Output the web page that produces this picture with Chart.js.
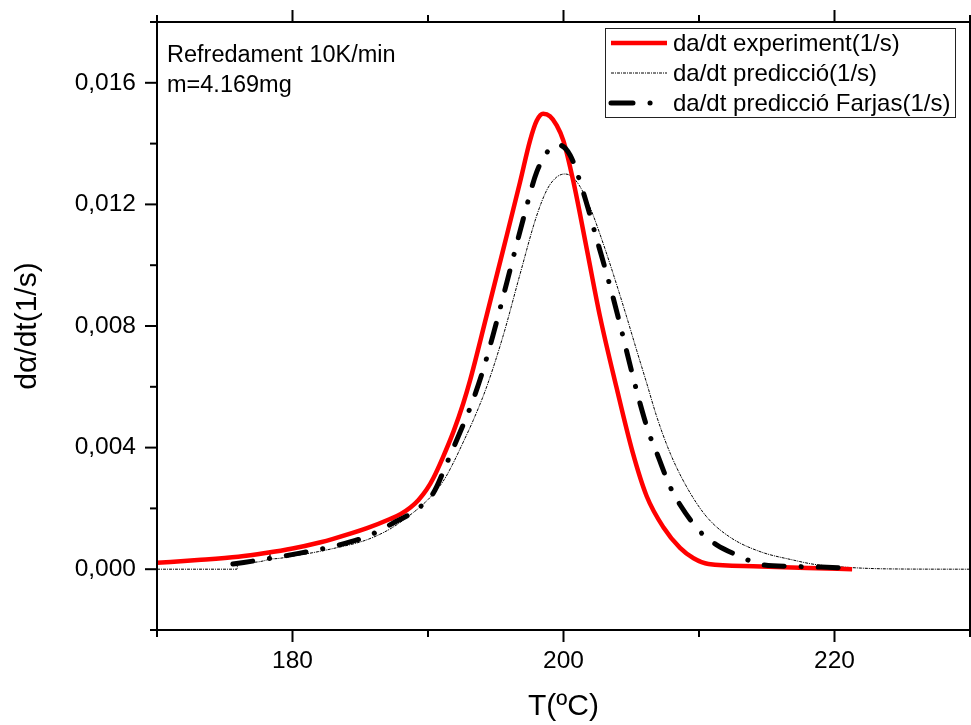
<!DOCTYPE html>
<html>
<head>
<meta charset="utf-8">
<script src="https://cdn.jsdelivr.net/npm/chart.js@4.4.1/dist/chart.umd.min.js"></script>
<style>
    body { margin: 0; background: #fff; }
    canvas { display: block; }
</style>
</head>
<body>
<canvas id="dsc" width="971" height="725"></canvas>
<script>
// Cooling run, 10 K/min, sample of 4.169 mg
const expT = [170.0, 173.0, 176.0, 178.0, 180.0, 182.0, 183.0, 185.5, 187.2, 188.0, 188.7, 189.3, 189.9, 190.4, 191.1, 191.9,
    192.6, 193.1, 194.33, 195.56, 196.79, 197.53, 198.02, 198.5, 199.0, 199.5, 199.99, 200.73, 201.71, 202.7, 203.9,
    205.1, 206.14, 207.37, 208.6, 209.6, 210.7, 214.0, 218.0, 221.3];
const expRate = [0.00021, 0.00030, 0.00041, 0.00053, 0.00068, 0.00088, 0.00100, 0.00135, 0.00165, 0.00182, 0.00203, 0.00228,
    0.00262, 0.00300, 0.00368, 0.00455, 0.00545, 0.00620, 0.00835, 0.01053, 0.01273, 0.01410, 0.01475, 0.01498, 0.01490,
    0.01460, 0.01410, 0.01275, 0.01055, 0.00830, 0.00600, 0.00385, 0.00240, 0.00138, 0.00070, 0.00036, 0.00017, 0.00010,
    0.00004, 0.00000];

const predT = [170.0, 175.9, 175.95, 178.3, 178.35, 178.4, 180.55, 183.0, 185.5, 187.3, 188.67, 189.6, 190.4, 191.2, 191.87,
    192.6, 193.34, 194.33, 195.56, 196.79, 198.0, 198.8, 199.5, 200.1, 200.6, 201.2, 201.96, 202.94, 203.93, 204.66,
    205.4, 206.14, 206.88, 207.86, 209.1, 210.57, 212.3, 214.5, 216.96, 218.5, 221.0, 224.0, 230.0];
const predRate = [0.0, 0.0, 0.00016, 0.00034, 0.00062, 0.00034, 0.00047, 0.00068, 0.00097, 0.00135, 0.00178, 0.00212, 0.00248,
    0.00295, 0.00350, 0.00418, 0.00490, 0.00600, 0.00770, 0.00970, 0.01160, 0.01250, 0.01290, 0.01300, 0.01292, 0.01260,
    0.01190, 0.01070, 0.00935, 0.00830, 0.00720, 0.00612, 0.00502, 0.00383, 0.00270, 0.00172, 0.00105, 0.00058, 0.00030,
    0.00016, 0.00006, 0.00001, 0.0];

const farjasT = [175.6, 178.0, 180.55, 183.0, 185.5, 187.44, 189.15, 190.4, 191.4, 192.34, 193.1, 193.96, 194.8, 195.8, 197.03,
    198.02, 199.0, 199.6, 200.5, 201.46, 202.45, 203.43, 204.2, 205.0, 205.65, 206.3, 206.88, 207.86, 208.6, 210.07,
    211.3, 212.78, 214.75, 217.0, 219.0, 221.3];
const farjasRate = [0.00017, 0.00033, 0.00053, 0.00075, 0.00108, 0.00152, 0.00196, 0.00251, 0.00350, 0.00448, 0.00530, 0.00640,
    0.00770, 0.00940, 0.01152, 0.01306, 0.01383, 0.01396, 0.01361, 0.01240, 0.01086, 0.00932, 0.00800, 0.00656, 0.00545,
    0.00448, 0.00383, 0.00272, 0.00212, 0.00124, 0.00080, 0.00047, 0.00014, 0.00009, 0.00007, 0.00003];

const seriesLabels = ['da/dt experiment(1/s)', 'da/dt predicció(1/s)', 'da/dt predicció Farjas(1/s)'];
const notes = ['Refredament 10K/min', 'm=4.169mg'];

const FONT = '"Liberation Sans", Arial, sans-serif';

function toPoints(xs, ys) {
    return xs.map((x, i) => ({x: x, y: ys[i]}));
}

function isMajorY(v) {
    return Math.round(v * 1000) % 4 === 0;
}

function yLabel(v) {
    // round first so the zero tick does not come out as -0,000
    return (Math.round(v * 1000) / 1000).toFixed(3).replace('.', ',');
}

// box round the plot plus the outward tick marks on all four sides
const frameTicks = {
    id: 'frameTicks',
    afterDatasetsDraw(chart) {
        const {ctx, chartArea: a, scales} = chart;
        ctx.save();
        ctx.strokeStyle = '#000';
        ctx.lineWidth = 2;
        ctx.strokeRect(a.left, a.top, a.right - a.left, a.bottom - a.top);

        function seg(x1, y1, x2, y2) {
            ctx.beginPath();
            ctx.moveTo(x1, y1);
            ctx.lineTo(x2, y2);
            ctx.stroke();
        }

        scales.x.ticks.forEach(t => {
            const px = scales.x.getPixelForValue(t.value);
            const len = t.value % 20 === 0 ? 12 : 7;
            seg(px, a.bottom, px, a.bottom + len);
            seg(px, a.top, px, a.top - len);
        });
        scales.y.ticks.forEach(t => {
            const py = scales.y.getPixelForValue(t.value);
            const len = isMajorY(t.value) ? 12 : 7;
            seg(a.left, py, a.left - len, py);
            seg(a.right, py, a.right + len, py);
        });
        ctx.restore();
    }
};

// legend box in the top right corner, samples use each dataset's own style
const boxLegend = {
    id: 'boxLegend',
    afterDraw(chart) {
        const ctx = chart.ctx;
        ctx.save();
        ctx.strokeStyle = '#222';
        ctx.lineWidth = 1;
        ctx.strokeRect(605.5, 28.5, 350, 89);

        ctx.font = '24px ' + FONT;
        ctx.fillStyle = '#000';
        ctx.textBaseline = 'middle';
        chart.data.datasets.forEach((ds, i) => {
            const y = 43 + i * 30;
            ctx.save();
            ctx.strokeStyle = ds.borderColor;
            ctx.lineWidth = ds.borderWidth;
            ctx.lineCap = ds.borderCapStyle || 'butt';
            ctx.setLineDash(ds.legendDash || ds.borderDash || []);
            ctx.beginPath();
            ctx.moveTo(611, y);
            ctx.lineTo(667, y);
            ctx.stroke();
            ctx.restore();
            ctx.fillText(ds.label, 673, y + 1);
        });

        ctx.font = '23.5px ' + FONT;
        ctx.textBaseline = 'alphabetic';
        ctx.fillText(notes[0], 167, 62);
        ctx.fillText(notes[1], 167, 92);
        ctx.restore();
    }
};

new Chart(document.getElementById('dsc'), {
    type: 'scatter',
    data: {
        datasets: [
            {
                label: seriesLabels[0],
                data: toPoints(expT, expRate),
                showLine: true,
                borderColor: '#ff0000',
                borderWidth: 4.5,
                pointRadius: 0,
                cubicInterpolationMode: 'monotone',
                order: 1
            },
            {
                label: seriesLabels[1],
                data: toPoints(predT, predRate),
                showLine: true,
                borderColor: '#000',
                borderWidth: 1,
                borderDash: [3, 1, 1, 1],
                pointRadius: 0,
                cubicInterpolationMode: 'monotone',
                order: 2
            },
            {
                label: seriesLabels[2],
                data: toPoints(farjasT, farjasRate),
                showLine: true,
                borderColor: '#000',
                borderWidth: 5,
                borderCapStyle: 'round',
                borderDash: [20, 17, 0.1, 17],
                legendDash: [22, 17, 0.1, 17, 0.1, 40],
                pointRadius: 0,
                cubicInterpolationMode: 'monotone',
                order: 0
            }
        ]
    },
    options: {
        responsive: false,
        animation: false,
        layout: {padding: {top: 22, right: 1, left: 0, bottom: 0}},
        plugins: {
            legend: {display: false},
            tooltip: {enabled: false}
        },
        scales: {
            x: {
                type: 'linear',
                min: 170,
                max: 230,
                grid: {display: false, drawTicks: false},
                border: {display: false},
                ticks: {
                    stepSize: 10,
                    autoSkip: false,
                    maxRotation: 0,
                    padding: 17,
                    color: '#000',
                    font: {family: FONT, size: 24.5},
                    callback: v => v % 20 === 0 ? String(v) : ''
                },
                title: {
                    display: true,
                    text: 'T(ºC)',
                    color: '#000',
                    font: {family: FONT, size: 30},
                    padding: {top: 0, bottom: 0}
                },
                afterFit: s => {
                    s.height = 95;
                    s.paddingLeft = 0;
                    s.paddingRight = 0;
                }
            },
            y: {
                type: 'linear',
                min: -0.002,
                max: 0.018,
                grid: {display: false, drawTicks: false},
                border: {display: false},
                ticks: {
                    stepSize: 0.002,
                    autoSkip: false,
                    padding: 21,
                    color: '#000',
                    font: {family: FONT, size: 24.5},
                    callback: v => isMajorY(v) ? yLabel(v) : ''
                },
                title: {
                    display: true,
                    text: 'dα/dt(1/s)',
                    color: '#000',
                    font: {family: FONT, size: 30},
                    padding: {top: 10, bottom: 0}
                },
                afterFit: s => {
                    s.width = 157;
                    s.paddingTop = 0;
                    s.paddingBottom = 0;
                }
            }
        }
    },
    plugins: [frameTicks, boxLegend]
});
</script>
</body>
</html>
